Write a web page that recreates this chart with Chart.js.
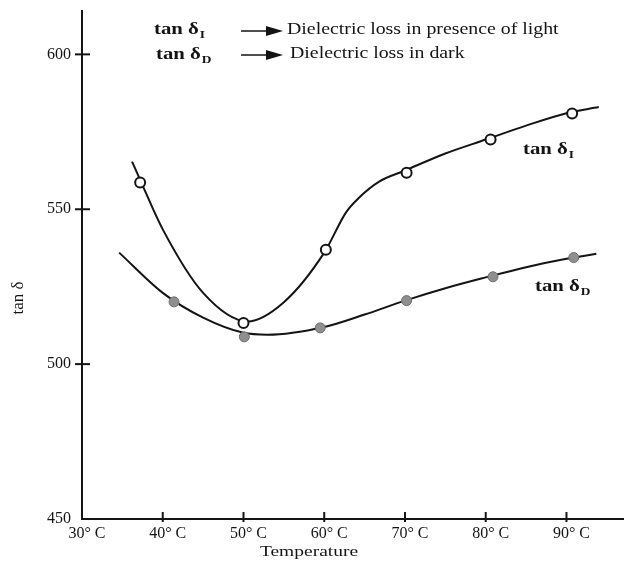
<!DOCTYPE html>
<html>
<head>
<meta charset="utf-8">
<script src="https://cdn.jsdelivr.net/npm/chart.js@4/dist/chart.umd.min.js"></script>
<style>
  html, body { margin: 0; padding: 0; background: #fff; }
  #wrap { width: 630px; height: 561px; }
</style>
</head>
<body>
<div id="wrap"><canvas id="chart" width="630" height="561"></canvas></div>
<script>
// measured points (open circles = light, grey = dark)
const tempsLight = [37.2, 50.0, 60.2, 70.2, 80.6, 90.7];
const lossLight  = [558.6, 513.3, 536.9, 561.8, 572.5, 580.9];
const tempsDark  = [41.4, 50.1, 59.5, 70.2, 80.9, 90.9];
const lossDark   = [520.1, 508.8, 511.7, 520.5, 528.2, 534.4];

// fitted curves
const fitTempsLight = [36.2, 37.2, 40, 45, 50.5, 55, 60, 62.7, 64.3, 66.8, 70, 75, 80, 85, 90, 94];
const fitLossLight  = [565.4, 559.5, 543.5, 523, 513.8, 520, 536, 549, 553.7, 558.9, 562.5, 568, 572.5, 577, 581, 583];
const fitTempsDark  = [34.6, 40, 45, 50, 53, 60, 65, 70, 75, 80, 85, 90, 93.7];
const fitLossDark   = [536, 523, 515, 510.1, 509.5, 512, 516, 520.5, 524.5, 528, 531.3, 534, 535.6];

const xTickValues = [30, 40, 50, 60, 70, 80, 90];
const yTickValues = [450, 500, 550, 600];

const SERIF = '"Liberation Serif", "Times New Roman", serif';
const INK = '#141414';

const pts = (xs, ys) => xs.map((x, i) => ({ x, y: ys[i] }));

/** stretched text, the scan is wider than it is tall */
function wideText(ctx, text, x, y, font, align = 'left', sx = 1.22) {
  ctx.save();
  ctx.font = font;
  ctx.textBaseline = 'middle';
  ctx.textAlign = align;
  ctx.translate(x, y);
  ctx.scale(sx, 1);
  ctx.fillText(text, 0, 0);
  ctx.restore();
}

/** bold "tan δ" with a subscript */
function tanDelta(ctx, x, y, sub, size) {
  ctx.save();
  ctx.fillStyle = INK;
  ctx.font = `bold ${size}px ${SERIF}`;
  const w = ctx.measureText('tan δ').width * 1.22;
  wideText(ctx, 'tan δ', x, y, `bold ${size}px ${SERIF}`);
  wideText(ctx, sub, x + w + 1, y + 5, `bold ${Math.round(size * 0.62)}px ${SERIF}`);
  ctx.restore();
}

function arrow(ctx, x0, x1, y) {
  ctx.save();
  ctx.strokeStyle = INK;
  ctx.fillStyle = INK;
  ctx.lineWidth = 1.5;
  ctx.beginPath();
  ctx.moveTo(x0, y);
  ctx.lineTo(x1 - 14, y);
  ctx.stroke();
  ctx.beginPath();
  ctx.moveTo(x1 - 17, y - 5);
  ctx.lineTo(x1, y);
  ctx.lineTo(x1 - 17, y + 5);
  ctx.closePath();
  ctx.fill();
  ctx.restore();
}

const overlay = {
  id: 'overlay',
  afterDraw(chart) {
    const { ctx, scales: { x, y } } = chart;
    const ax = x.left, ay = y.bottom;
    ctx.save();
    ctx.strokeStyle = INK;
    ctx.lineWidth = 2;
    // crossing tick marks
    y.ticks.forEach(t => {
      const py = y.getPixelForValue(t.value);
      if (t.value === y.min) return;
      ctx.beginPath(); ctx.moveTo(ax - 7, py); ctx.lineTo(ax + 8, py); ctx.stroke();
    });
    x.ticks.forEach(t => {
      const px = x.getPixelForValue(t.value);
      if (t.value === x.min) return;
      ctx.beginPath(); ctx.moveTo(px, ay - 7); ctx.lineTo(px, ay + 3); ctx.stroke();
    });
    ctx.fillStyle = INK;
    // axis titles
    wideText(ctx, 'Temperature', 309, 552, `15px ${SERIF}`, 'center', 1.3);
    ctx.save();
    ctx.translate(19, 298);
    ctx.rotate(-Math.PI / 2);
    wideText(ctx, 'tan δ', 0, 0, `17px ${SERIF}`, 'center', 1.0);
    ctx.restore();
    // key at the top
    tanDelta(ctx, 154, 30, 'I', 17);
    arrow(ctx, 241, 283, 31);
    wideText(ctx, 'Dielectric loss in presence of light', 287, 30, `16px ${SERIF}`, 'left', 1.24);
    tanDelta(ctx, 156, 55, 'D', 17);
    arrow(ctx, 241, 283, 55);
    wideText(ctx, 'Dielectric loss in dark', 290, 54, `16px ${SERIF}`, 'left', 1.24);
    // curve labels
    tanDelta(ctx, 523, 150, 'I', 17);
    tanDelta(ctx, 535, 287, 'D', 17);
    ctx.restore();
  }
};

new Chart(document.getElementById('chart'), {
  type: 'scatter',
  data: {
    datasets: [
      {
        label: 'tan δI points',
        data: pts(tempsLight, lossLight),
        pointRadius: 5,
        pointBorderWidth: 2,
        pointBorderColor: INK,
        pointBackgroundColor: '#ffffff',
        order: 0,
      },
      {
        label: 'tan δD points',
        data: pts(tempsDark, lossDark),
        pointRadius: 5,
        pointBorderWidth: 1,
        pointBorderColor: '#6e6e6e',
        pointBackgroundColor: '#8f8f8f',
        order: 0,
      },
      {
        label: 'tan δI fit',
        data: pts(fitTempsLight, fitLossLight),
        showLine: true,
        pointRadius: 0,
        borderColor: INK,
        borderWidth: 2,
        cubicInterpolationMode: 'monotone',
        order: 1,
      },
      {
        label: 'tan δD fit',
        data: pts(fitTempsDark, fitLossDark),
        showLine: true,
        pointRadius: 0,
        borderColor: INK,
        borderWidth: 2,
        cubicInterpolationMode: 'monotone',
        order: 1,
      },
    ],
  },
  options: {
    responsive: false,
    animation: false,
    events: [],
    layout: { padding: { top: 11, right: 5, left: 0, bottom: 0 } },
    plugins: { legend: { display: false }, tooltip: { enabled: false } },
    scales: {
      x: {
        type: 'linear',
        min: 30,
        max: 97,
        border: { color: INK, width: 2 },
        grid: { display: false, drawTicks: false },
        afterFit(scale) { scale.height = 42; scale.paddingLeft = 0; scale.paddingRight = 0; },
        afterBuildTicks(scale) { scale.ticks = xTickValues.map(v => ({ value: v })); },
        ticks: {
          color: INK,
          font: { family: SERIF, size: 16 },
          padding: 5,
          labelOffset: 5,
          maxRotation: 0,
          callback: v => `${v}° C`,
        },
      },
      y: {
        type: 'linear',
        min: 450,
        max: 614,
        border: { color: INK, width: 2 },
        grid: { display: false, drawTicks: false },
        afterFit(scale) { scale.width = 82; scale.paddingTop = 0; scale.paddingBottom = 0; },
        afterBuildTicks(scale) { scale.ticks = yTickValues.map(v => ({ value: v })); },
        ticks: {
          color: INK,
          font: { family: SERIF, size: 16 },
          padding: 11,
        },
      },
    },
  },
  plugins: [overlay],
});
</script>
</body>
</html>
